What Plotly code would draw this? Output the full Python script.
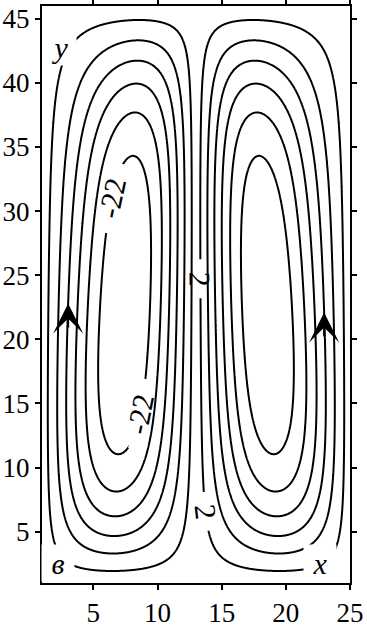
import numpy as np
import plotly.graph_objects as go

# ---------------- data ----------------
X_RANGE = [1, 25]
Y_RANGE = [1, 46]
X_TICKS = [5, 10, 15, 20, 25]
Y_TICKS = [5, 10, 15, 20, 25, 30, 35, 40, 45]
CELL_DIVIDE = 13.0          # x of the dividing streamline

# stream-function model (two counter-rotating cells)
PSI_MAX = 26.3
X_SHAPE = 1.15
LAM_BOTTOM = 6.4
LAM_TOP = 7.45
Y_SHAPE = 1.32
TILT = [-0.15, -0.017]      # cell tilt  c(y) = TILT[0] + TILT[1]*(y - 21)

LEVEL_START = -22
LEVEL_END = 22
LEVEL_STEP = 4

# contour labels
LABEL_TEXT = ["-22", "-22", "2", "2"]
LABEL_LEVEL = [-22, -22, 2, 2]
LABEL_Y = [31.0, 14.2, 24.7, 6.55]
LABEL_SIDE = ["outer", "inner", "inner", "inner"]
LABEL_READ = ["up", "up", "down", "down"]

# flow-direction arrows (on the +-10 streamlines)
ARROW_LEVEL = [-10, 10]
ARROW_TIP_Y = [22.8, 22.1]

# axis names written inside the frame
AXIS_NAMES = ["y", "x", "в"]
AXIS_NAME_X = [2.43, 22.65, 2.25]
AXIS_NAME_Y = [42.8, 2.55, 2.55]

FONT = "Liberation Serif"
W, H = 367, 629
M = dict(l=42, r=17, t=6, b=46)


def psi(x, y):
    x = np.asarray(x, float)
    y = np.asarray(y, float)
    left = x <= CELL_DIVIDE
    half = CELL_DIVIDE - X_RANGE[0]
    u = np.where(left, (x - X_RANGE[0]) / half, (X_RANGE[1] - x) / half)
    u = np.clip(u, 0, 1)
    c = TILT[0] + TILT[1] * (y - 21.0)
    w = u + c * u * (1 - u)
    xp = np.clip(np.sin(np.pi * w), 0, None) ** X_SHAPE
    yb = np.clip(y - Y_RANGE[0], 0, None)
    yt = np.clip(Y_RANGE[1] - y, 0, None)
    yp = (1 - np.exp(-(yb / LAM_BOTTOM) ** Y_SHAPE)) * (1 - np.exp(-(yt / LAM_TOP) ** Y_SHAPE))
    sign = np.where(left, -1.0, 1.0)
    return sign * PSI_MAX * xp * yp


xs = np.linspace(X_RANGE[0], X_RANGE[1], 481)
ys = np.linspace(Y_RANGE[0], Y_RANGE[1], 901)
XX, YY = np.meshgrid(xs, ys)
Z = psi(XX, YY)

KX = (W - M["l"] - M["r"]) / (X_RANGE[1] - X_RANGE[0])
KY = (H - M["t"] - M["b"]) / (Y_RANGE[1] - Y_RANGE[0])


def contour_x(level, y, side):
    if level < 0:
        xx = np.linspace(X_RANGE[0], CELL_DIVIDE, 6001)
    else:
        xx = np.linspace(CELL_DIVIDE, X_RANGE[1], 6001)
    v = psi(xx, np.full_like(xx, y)) * np.sign(level)
    t = abs(level)
    ip = int(np.argmax(v))
    low_side = (level < 0 and side == "outer") or (level > 0 and side == "inner")
    seg = np.arange(0, ip + 1) if low_side else np.arange(ip, len(xx))
    vs = v[seg]
    xsg = xx[seg]
    for i in range(len(vs) - 1):
        if (vs[i] - t) * (vs[i + 1] - t) <= 0 and vs[i] != vs[i + 1]:
            f = (t - vs[i]) / (vs[i + 1] - vs[i])
            return xsg[i] + f * (xsg[i + 1] - xsg[i])
    return xx[ip]


def tangent_angle(x, y, read):
    h = 1e-3
    gx = (psi(x + h, y) - psi(x - h, y)) / (2 * h) / KX
    gy = (psi(x, y + h) - psi(x, y - h)) / (2 * h) / KY
    th = np.degrees(np.arctan2(gx, -gy))
    if read == "up":
        while th <= -90:
            th += 180
        while th > 90:
            th -= 180
    else:
        while th >= 0:
            th -= 180
        while th < -180:
            th += 180
    return -float(th)


fig = go.Figure()
fig.add_trace(go.Contour(
    x=xs, y=ys, z=Z,
    contours=dict(start=LEVEL_START, end=LEVEL_END, size=LEVEL_STEP,
                  coloring="lines", showlabels=False),
    colorscale=[[0, "black"], [1, "black"]],
    line=dict(width=2, smoothing=1),
    showscale=False, hoverinfo="skip",
))

ann = []
# contour labels: a white strip breaks the line, then the number on top
for txt, lev, ly, side, rd in zip(LABEL_TEXT, LABEL_LEVEL, LABEL_Y, LABEL_SIDE, LABEL_READ):
    lx = contour_x(lev, ly, side)
    ang = tangent_angle(lx, ly, rd)
    length = 16 * len(txt) + 22
    ann.append(dict(x=lx, y=ly, xref="x", yref="y", text=" ", showarrow=False,
                    textangle=ang, bgcolor="white", width=length, height=9,
                    borderpad=0, font=dict(size=2)))
    ann.append(dict(x=lx, y=ly, xref="x", yref="y", text=txt, showarrow=False,
                    textangle=ang, font=dict(family=FONT, size=30, color="black")))

# flow arrows: barbed heads sitting on the streamlines
for lev, ty in zip(ARROW_LEVEL, ARROW_TIP_Y):
    ax_ = contour_x(lev, ty, "outer")
    ann.append(dict(x=ax_, y=ty, ax=ax_, ay=ty - 2.0, xref="x", yref="y",
                    axref="x", ayref="y", text="", showarrow=True,
                    arrowhead=3, arrowsize=2.5, arrowwidth=2, arrowcolor="black",
                    standoff=0, startstandoff=0))

# axis names inside the frame, on white
for nm, nx, ny in zip(AXIS_NAMES, AXIS_NAME_X, AXIS_NAME_Y):
    ann.append(dict(x=nx, y=ny, xref="x", yref="y", text="<i>%s</i>" % nm,
                    showarrow=False, bgcolor="white", width=32, height=36,
                    borderpad=0, font=dict(family=FONT, size=30, color="black")))

axis_common = dict(showgrid=False, zeroline=False, showline=True, linecolor="black",
                   linewidth=2, mirror="allticks", ticks="outside", ticklen=5,
                   tickwidth=1.5, tickcolor="black", automargin=False,
                   tickfont=dict(family=FONT, size=27, color="black"))

fig.update_layout(
    width=W, height=H, margin=M,
    paper_bgcolor="white", plot_bgcolor="white",
    xaxis=dict(range=X_RANGE, tickvals=X_TICKS, **axis_common),
    yaxis=dict(range=Y_RANGE, tickvals=Y_TICKS, **axis_common),
    annotations=ann, showlegend=False,
)

fig.write_html("out.html", config={"displayModeBar": False},
               post_script="document.body.style.margin='0';document.body.style.padding='0';"
                           "document.body.style.overflow='hidden';")
